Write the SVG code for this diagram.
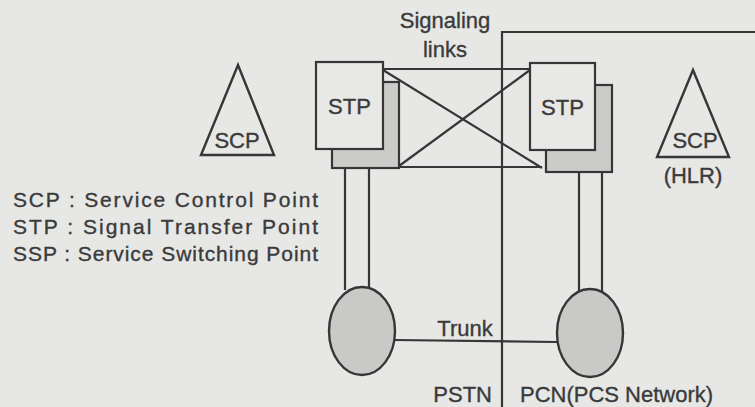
<svg xmlns="http://www.w3.org/2000/svg" width="755" height="407" viewBox="0 0 755 407">
<style>
.ln{stroke:#363636;stroke-width:2.2;fill:none}
.front{fill:#e8e8e6;stroke:#363636;stroke-width:2.2}
.back{fill:#cbcbc9;stroke:#363636;stroke-width:2.2}
.ssp{fill:#c9c9c7;stroke:#363636;stroke-width:2.4}
.tri{fill:none;stroke:#363636;stroke-width:2.4;stroke-linejoin:miter}
text{font-family:"Liberation Sans",Arial,sans-serif;fill:#3a3a3a;stroke:#3a3a3a;stroke-width:0.35}
.big{font-size:22px}
.leg{font-size:21px}
</style>
<rect width="755" height="407" fill="#e7e7e5"/>
<g id="divider">
<path class="ln" d="M502,407 V32 H755"/>
</g>
<g id="connectors">
<path class="ln" d="M383,69 H530"/>
<path class="ln" d="M399,167 H542"/>
<path class="ln" d="M383,70 L542,168"/>
<path class="ln" d="M399,166 L530,70"/>
<path class="ln" d="M345,168 V290 M369,168 V289"/>
<path class="ln" d="M579,172 V292 M602,172 V292"/>
<path class="ln" d="M395,340 L557,342"/>
</g>
<g id="stp-left">
<rect class="back" x="332" y="82" width="67" height="86"/>
<rect class="front" x="316" y="62" width="67" height="87"/>
<text class="big" x="349.5" y="114" text-anchor="middle">STP</text>
</g>
<g id="stp-right">
<rect class="back" x="546" y="85" width="66" height="87"/>
<rect class="front" x="530" y="63" width="65" height="87"/>
<text class="big" x="562.5" y="115" text-anchor="middle">STP</text>
</g>
<g id="ssp-left">
<ellipse class="ssp" cx="362" cy="331" rx="33" ry="44"/>
</g>
<g id="ssp-right">
<ellipse class="ssp" cx="590" cy="333" rx="33" ry="44"/>
</g>
<g id="scp-left">
<polygon class="tri" points="238,65 201,155 274,155"/>
<text class="big" x="237" y="148" text-anchor="middle">SCP</text>
</g>
<g id="scp-right">
<polygon class="tri" points="693,70 657,157 729,157"/>
<text class="big" x="695" y="148" text-anchor="middle">SCP</text>
<text class="big" x="693" y="183" text-anchor="middle">(HLR)</text>
</g>
<g id="labels">
<text class="big" x="445" y="28" text-anchor="middle">Signaling</text>
<text class="big" x="445" y="57" text-anchor="middle">links</text>
<text class="big" x="465" y="336" text-anchor="middle">Trunk</text>
<text class="big" x="492" y="402" text-anchor="end">PSTN</text>
<text class="big" x="520" y="402">PCN(PCS Network)</text>
</g>
<g id="legend">
<text class="leg" x="13" y="207" textLength="305" lengthAdjust="spacing">SCP : Service Control Point</text>
<text class="leg" x="13" y="234" textLength="305" lengthAdjust="spacing">STP : Signal Transfer Point</text>
<text class="leg" x="13" y="261" textLength="305" lengthAdjust="spacing">SSP : Service Switching Point</text>
</g>
</svg>
